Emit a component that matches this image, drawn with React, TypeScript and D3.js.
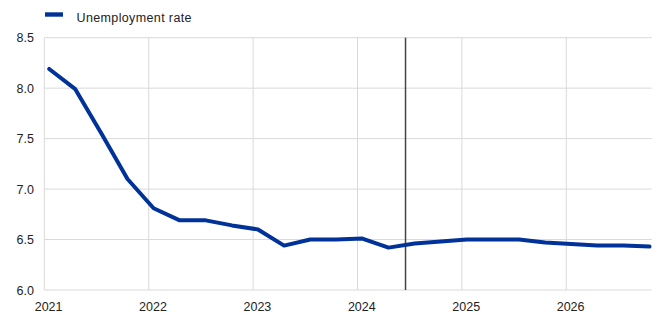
import * as d3 from "d3";

// quarterly observations and projections
const periods = [
  "2021Q1", "2021Q2", "2021Q3", "2021Q4",
  "2022Q1", "2022Q2", "2022Q3", "2022Q4",
  "2023Q1", "2023Q2", "2023Q3", "2023Q4",
  "2024Q1", "2024Q2", "2024Q3", "2024Q4",
  "2025Q1", "2025Q2", "2025Q3", "2025Q4",
  "2026Q1", "2026Q2", "2026Q3", "2026Q4",
];
const unemploymentRate = [
  8.19, 7.99, 7.55, 7.1,
  6.81, 6.69, 6.69, 6.64,
  6.6, 6.44, 6.5, 6.5,
  6.51, 6.42, 6.46, 6.48,
  6.5, 6.5, 6.5, 6.47,
  6.455, 6.44, 6.44, 6.43,
];
const yearTicks = [2021, 2022, 2023, 2024, 2025, 2026];
const valueTicks = [6.0, 6.5, 7.0, 7.5, 8.0, 8.5];
const projectionStart = 2024.46;
const seriesName = "Unemployment rate";

const W = 659;
const H = 315;
const margin = { top: 37.7, right: 7.3, bottom: 25, left: 44.3 };
const font = "'Liberation Sans', Arial, sans-serif";
const blue = "#003299";
const grid = "#d9d9d9";

// position each quarter slightly after the quarter start, as in the source
const toYear = (p: string) => +p.slice(0, 4) + (+p.slice(5) - 1) * 0.25 + 0.047;

export default function App() {
  const x = d3.scaleLinear().domain([2021, 2026.818]).range([margin.left, W - margin.right]);
  const y = d3.scaleLinear().domain([6, 8.5]).range([H - margin.bottom, margin.top]);

  const data = periods.map((p, i) => ({ t: toYear(p), v: unemploymentRate[i] }));
  const line = d3
    .line<{ t: number; v: number }>()
    .x((d) => x(d.t))
    .y((d) => y(d.v));

  const [x0, x1] = x.range();
  const [y0, y1] = y.range();

  return (
    <svg
      width={W}
      height={H}
      style={{ position: "absolute", left: 0, top: 0, background: "#fff" }}
      fontFamily={font}
    >
      {/* legend */}
      <rect x={45} y={12.3} width={18} height={4.4} fill={blue} />
      <text x={76.5} y={22.2} fontSize={12.5} letterSpacing={0.37} fill="#222">
        {seriesName}
      </text>

      {/* horizontal grid + y labels */}
      {valueTicks.map((v) => (
        <g key={v}>
          <line x1={x0} x2={x1} y1={y(v)} y2={y(v)} stroke={grid} strokeWidth={1} />
          <text x={34} y={y(v)} dy="0.36em" textAnchor="end" fontSize={12.5} fill="#222">
            {d3.format(".1f")(v)}
          </text>
        </g>
      ))}

      {/* vertical grid + x labels */}
      {yearTicks.map((t) => (
        <g key={t}>
          <line x1={x(t)} x2={x(t)} y1={y1} y2={y0} stroke={grid} strokeWidth={1} />
          <text x={x(t) + 4.3} y={311.3} textAnchor="middle" fontSize={12.5} fill="#222">
            {t}
          </text>
        </g>
      ))}

      {/* projection marker */}
      <line
        x1={x(projectionStart)}
        x2={x(projectionStart)}
        y1={y1}
        y2={y0}
        stroke="#444"
        strokeWidth={1.5}
      />

      <path
        d={line(data) ?? ""}
        fill="none"
        stroke={blue}
        strokeWidth={4}
        strokeLinejoin="round"
        strokeLinecap="round"
      />
    </svg>
  );
}
